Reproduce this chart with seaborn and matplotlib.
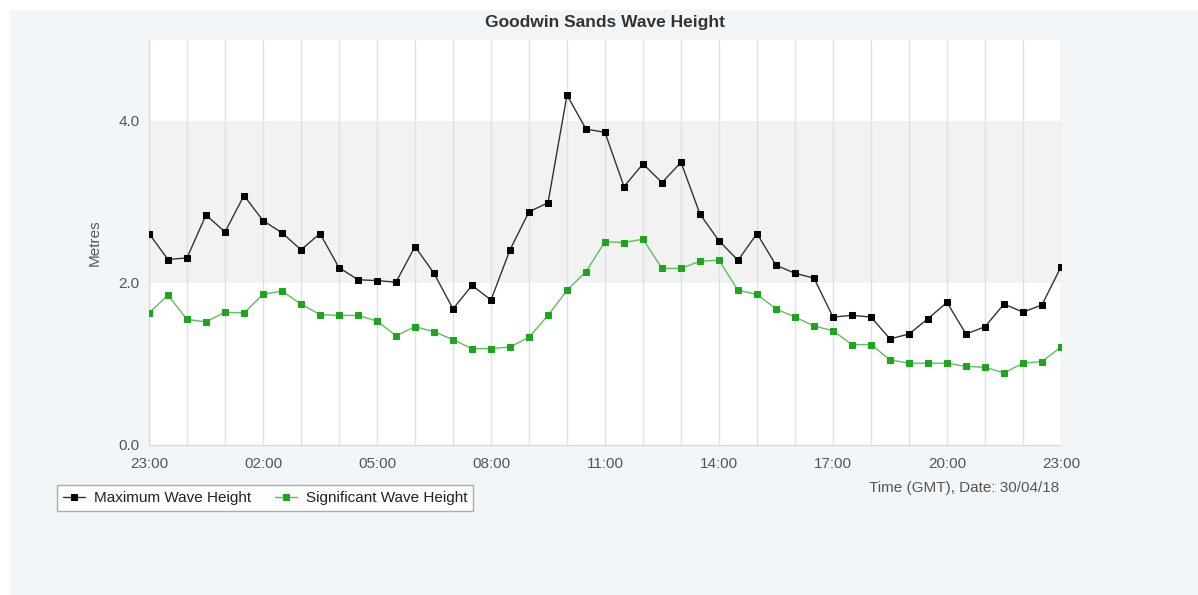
import numpy as np
import pandas as pd
import matplotlib
matplotlib.use("Agg")
import matplotlib.pyplot as plt
import matplotlib.dates as mdates
from matplotlib.patches import Rectangle
import seaborn as sns

# ---- data (half-hourly readings, 23:00 29/04 to 23:00 30/04) ----
start_time = "2018-04-29 23:00"
n_points = 49
max_wave = [2.61, 2.29, 2.31, 2.84, 2.63, 3.08, 2.77, 2.62, 2.41, 2.61, 2.19, 2.04,
            2.03, 2.01, 2.45, 2.12, 1.68, 1.97, 1.79, 2.41, 2.88, 2.99, 4.32, 3.90,
            3.86, 3.19, 3.47, 3.24, 3.49, 2.85, 2.52, 2.28, 2.61, 2.22, 2.12, 2.06,
            1.58, 1.60, 1.58, 1.31, 1.37, 1.56, 1.76, 1.37, 1.46, 1.74, 1.64, 1.73, 2.20]
sig_wave = [1.63, 1.85, 1.55, 1.52, 1.64, 1.63, 1.86, 1.90, 1.74, 1.61, 1.60, 1.60,
            1.53, 1.35, 1.46, 1.40, 1.30, 1.19, 1.19, 1.21, 1.33, 1.60, 1.91, 2.14,
            2.51, 2.50, 2.54, 2.18, 2.18, 2.27, 2.28, 1.91, 1.86, 1.68, 1.58, 1.47,
            1.41, 1.24, 1.24, 1.05, 1.01, 1.01, 1.01, 0.97, 0.96, 0.89, 1.01, 1.03, 1.21]
series_names = ["Maximum Wave Height", "Significant Wave Height"]
y_ticks = [0.0, 2.0, 4.0]
y_tick_labels = ["0.0", "2.0", "4.0"]
band = (2.0, 4.0)
title = "Goodwin Sands Wave Height"
y_label = "Metres"
x_note = "Time (GMT), Date: 30/04/18"

times = pd.date_range(start_time, periods=n_points, freq="30min")
df = pd.DataFrame({"time": times, series_names[0]: max_wave, series_names[1]: sig_wave})

sns.set_style("white")
plt.rcParams["font.family"] = ["Liberation Sans", "DejaVu Sans"]

fig = plt.figure(figsize=(11.98, 5.95), dpi=100)
fig.patch.set_facecolor("white")
# light panel background
fig.patches.append(Rectangle((10 / 1198, 0), 1, 1 - 10 / 595, transform=fig.transFigure,
                             facecolor="#f3f6f9", edgecolor="none", zorder=-10))

ax = fig.add_axes([149 / 1198, 1 - 445 / 595, (1061 - 149) / 1198, (445 - 40) / 595])
ax.set_facecolor("white")

ax.axhspan(band[0], band[1], color="#f2f2f2", zorder=0, lw=0)

sns.lineplot(data=df, x="time", y=series_names[0], ax=ax, color="#333333", lw=1.0,
             marker="s", markersize=4.5, markerfacecolor="black", markeredgecolor="black",
             label=series_names[0], zorder=3)
sns.lineplot(data=df, x="time", y=series_names[1], ax=ax, color="#5cc05c", lw=1.0,
             marker="s", markersize=4.5, markerfacecolor="#1ea51e", markeredgecolor="#1ea51e",
             label=series_names[1], zorder=3)

ax.set_xlim(times[0], times[-1])
ax.set_ylim(0, 5)
ax.set_yticks(y_ticks)
ax.set_yticklabels(y_tick_labels)

ax.xaxis.set_major_locator(mdates.HourLocator(byhour=[2, 5, 8, 11, 14, 17, 20, 23]))
ax.xaxis.set_major_formatter(mdates.DateFormatter("%H:%M"))
ax.xaxis.set_minor_locator(mdates.HourLocator())
ax.grid(True, axis="x", which="both", color="#dde1e6", lw=1.0)
ax.set_axisbelow(True)

ax.tick_params(axis="both", labelsize=11, colors="#555555", length=0)
ax.tick_params(axis="y", pad=7)
ax.tick_params(axis="x", pad=9)
ax.tick_params(axis="x", which="minor", length=0)
for s in ["top", "right"]:
    ax.spines[s].set_visible(False)
for s in ["left", "bottom"]:
    ax.spines[s].set_color("#d8dde3")
    ax.spines[s].set_linewidth(1.0)

ax.set_xlabel("")
ax.set_ylabel(y_label, fontsize=11, color="#555555", labelpad=12)
ax.set_title(title, fontsize=12.5, fontweight="bold", color="#333333", pad=9)

fig.text(1059 / 1198, 1 - 488 / 595, x_note, ha="right", va="center", fontsize=11, color="#555555")

ax.get_legend().remove()
handles, labels = ax.get_legend_handles_labels()
leg = fig.legend(handles, labels, loc="upper left", bbox_to_anchor=(57 / 1198, 1 - 485 / 595),
                 borderaxespad=0, ncol=2, fontsize=11, frameon=True, fancybox=False,
                 borderpad=0.4, handlelength=1.4, handletextpad=0.6, columnspacing=1.6)
leg.get_frame().set_edgecolor("#999999")
leg.get_frame().set_linewidth(1.0)
leg.get_frame().set_facecolor("white")
for t in leg.get_texts():
    t.set_color("#222222")

fig.savefig("out.png", dpi=100)
